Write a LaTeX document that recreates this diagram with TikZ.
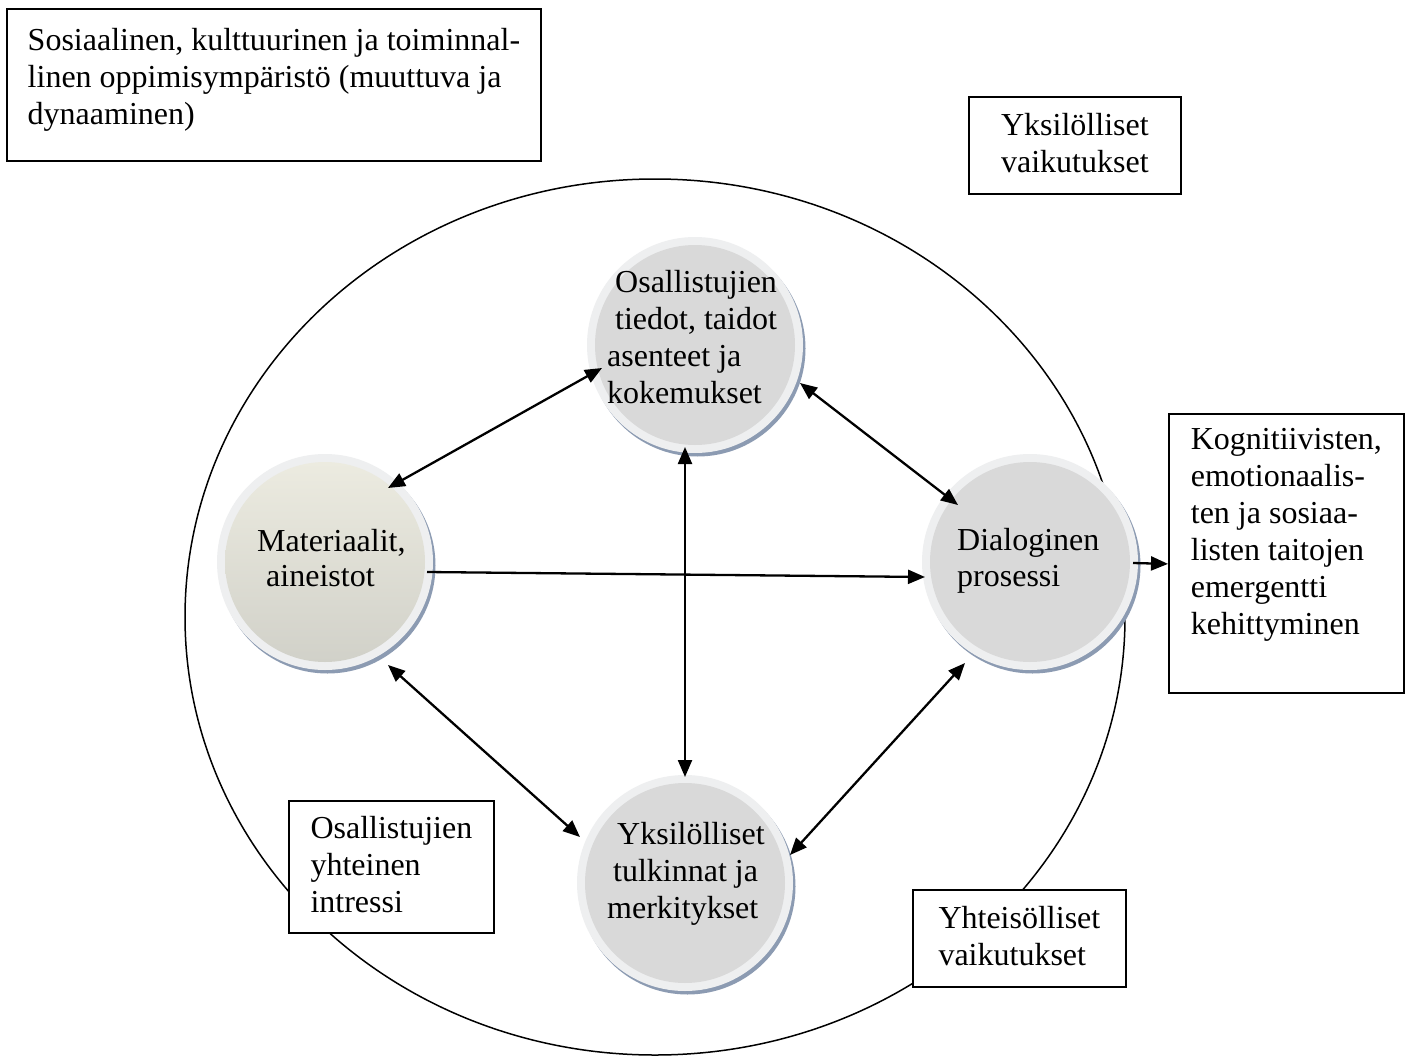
\documentclass[tikz,border=0pt]{standalone}
\usepackage{fontspec}
\setmainfont{Liberation Serif}
\usetikzlibrary{arrows.meta,shadows,shapes.geometric}
\definecolor{ringgray}{RGB}{238,239,240}
\definecolor{innergray}{RGB}{217,217,217}
\definecolor{shdw}{RGB}{140,155,178}
\definecolor{mattop}{RGB}{237,236,225}
\definecolor{matbot}{RGB}{208,208,200}
\begin{document}
\begin{tikzpicture}[x=1pt,y=-1pt,
  every node/.style={font=\fontsize{32pt}{37pt}\selectfont},
  bubble/.style={circle, minimum size=216pt, inner sep=0pt, outer sep=0pt, fill=ringgray,
     general shadow={shadow xshift=2.5pt, shadow yshift=-3.5pt, fill=shdw}},
  grayin/.style={path picture={\fill[innergray] (path picture bounding box.center) circle[radius=100pt];}},
  beigein/.style={path picture={\shade[top color=mattop, bottom color=matbot] (path picture bounding box.center) circle[radius=100pt];}},
  ctext/.style={align=left, inner sep=0pt, anchor=west},
  tbox/.style={draw, line width=1.8pt, fill=white, inner sep=0pt, anchor=north west},
  link/.style={line width=2.3pt, -{Triangle[length=17pt,width=14pt]}},
  dlink/.style={line width=2.3pt, {Triangle[length=17pt,width=14pt]}-{Triangle[length=17pt,width=14pt]}},
]
\fill[white] (0,0) rectangle (1408,1057);
\useasboundingbox (0,0) rectangle (1408,1057);

% outer oval
\node[draw, ellipse, line width=1.5pt, minimum width=940pt, minimum height=876pt, inner sep=0pt] (E) at (655,617) {};

% bubbles
\node[bubble, grayin] (T) at (695,345) {};
\node[bubble, beigein] (M) at (325,562) {};
\node[bubble, grayin] (D) at (1030,562) {};
\node[bubble, grayin] (B) at (685,883) {};

\node[ctext] (Tt) at (607,337) {\hspace*{8pt}Osallistujien\\\hspace*{8pt}tiedot, taidot\\asenteet ja\\kokemukset};
\node[ctext, font=\fontsize{32pt}{35pt}\selectfont] (Mt) at (257,558) {Materiaalit,\\\hspace*{9pt}aineistot};
\node[ctext, font=\fontsize{32pt}{36pt}\selectfont] (Dt) at (957,561) {Dialoginen\\prosessi};
\node[ctext] (Bt) at (607,874) {\hspace*{10pt}Yksilölliset\\\hspace*{6pt}tulkinnat ja\\merkitykset};

% connectors
\draw[dlink] ([shift={(-93,23)}]T.center) -- ([shift={(63,-74)}]M.center);
\draw[dlink] ([shift={(105,38)}]T.center) -- ([shift={(-72,-57)}]D.center);
\draw[dlink] ([shift={(-10,102)}]T.center) -- ([shift={(0,-106)}]B.center);
\draw[link] ([shift={(102,10)}]M.center) -- ([shift={(-105,15)}]D.center);
\draw[dlink] ([shift={(63,103)}]M.center) -- ([shift={(-105,-46)}]B.center);
\draw[dlink] ([shift={(105,-28)}]B.center) -- ([shift={(-65,101)}]D.center);

% text boxes
\node[tbox, minimum width=534pt, minimum height=152pt] (S) at (6,8)
  {\parbox[c][113pt][t]{478pt}{\hbox{Sosiaalinen, kulttuurinen ja toiminnal-}\hbox{linen oppimisympäristö (muuttuva ja}\hbox{dynaaminen)}}};
\node[tbox, minimum width=212pt, minimum height=97pt] (YV) at (968,96)
  {\parbox[c][64pt][t]{180pt}{\hbox{Yksilölliset}\hbox{vaikutukset}}};
\node[tbox, minimum width=235pt, minimum height=279pt] (K) at (1168,413)
  {\parbox[c][250pt][t]{193pt}{\hbox{Kognitiivisten,}\hbox{emotionaalis-}\hbox{ten ja sosiaa-}\hbox{listen taitojen}\hbox{emergentti}\hbox{kehittyminen}}};
\node[tbox, minimum width=205pt, minimum height=132pt] (OY) at (288,800)
  {\parbox[c][101pt][t]{161pt}{\hbox{Osallistujien}\hbox{yhteinen}\hbox{intressi}}};
\node[tbox, minimum width=213pt, minimum height=97pt] (YH) at (912,889)
  {\parbox[c][64pt][t]{167pt}{\hbox{Yhteisölliset}\hbox{vaikutukset}}};

\draw[link] ([shift={(103,1)}]D.center) -- ([shift={(0,10.5)}]K.west);
\end{tikzpicture}
\end{document}
